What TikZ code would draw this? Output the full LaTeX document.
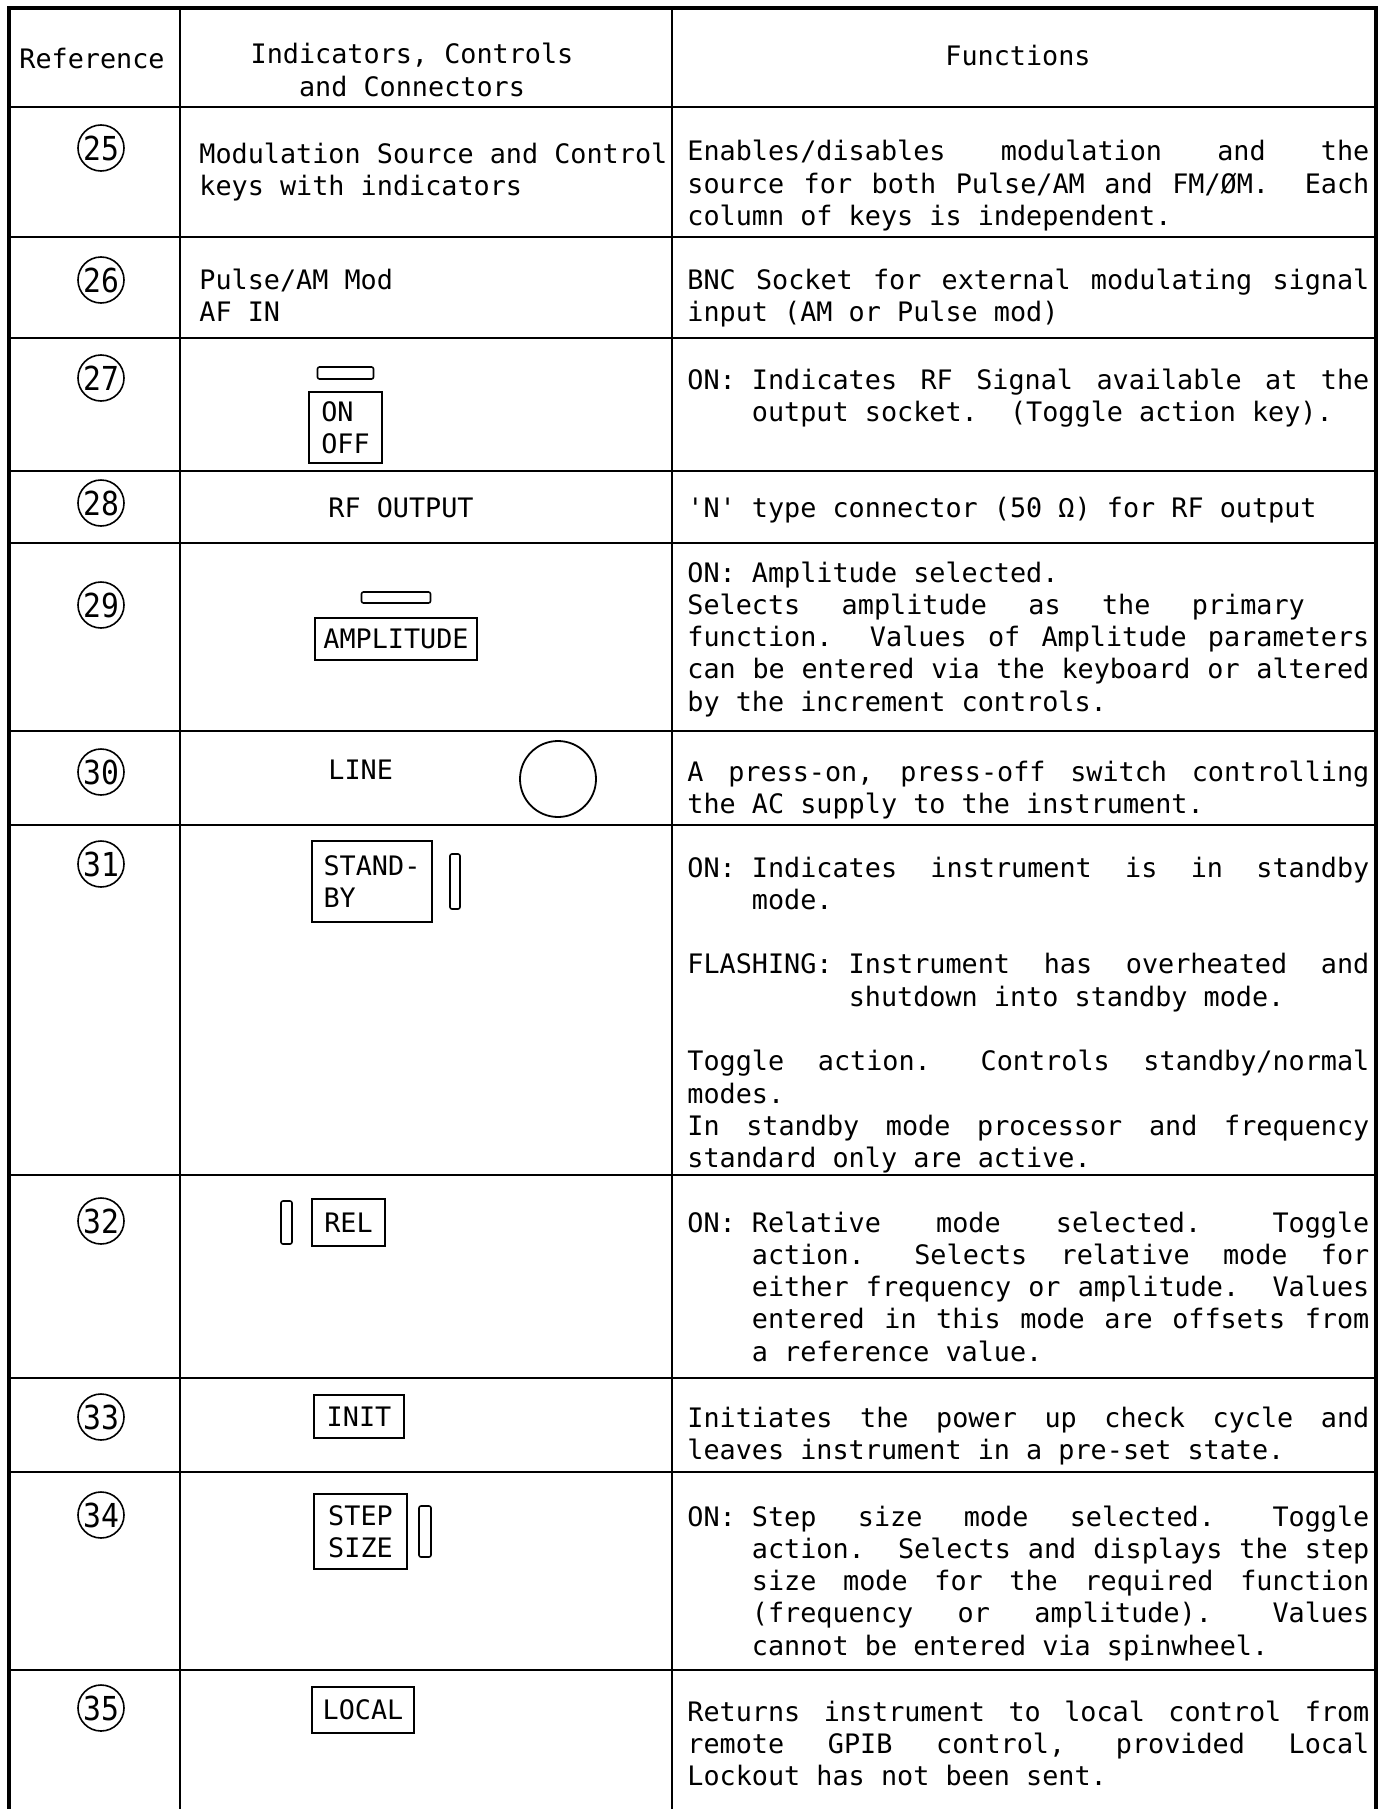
\documentclass[tikz,border=0pt]{standalone}
\usepackage{fontspec}
\setmainfont{DejaVu Sans Mono}
\usepackage{graphicx}
\usepackage{tikz}
\usetikzlibrary{positioning}

\newdimen\chw
\newcommand\fnfont{\fontsize{13.4pt}{16.15pt}\selectfont}
\newcommand\monosp{\setbox0=\hbox{0}\chw=\wd0\relax
	\spaceskip=\chw\relax \xspaceskip=2\chw\relax \sfcode`\:=1000\relax}
\newcommand\fnsetup{\monosp\spaceskip=\chw plus 2\chw\relax
	\xspaceskip=2\chw plus 2\chw\relax \parskip=0pt\relax
	\hyphenpenalty=10000 \exhyphenpenalty=10000\relax}
\newcommand\lbl[1]{#1\hspace{\chw}}
\newcommand\refnum[1]{\fontsize{16.5pt}{16.5pt}\selectfont\scalebox{0.9}[1]{#1}}

\begin{document}
\begin{tikzpicture}[x=0.5pt, y=-0.5pt, every node/.style={font=\fnfont, execute at begin node=\monosp},
		refcirc/.style={draw, circle, minimum size=23pt, inner sep=0pt, line width=0.8pt},
		txt/.style={anchor=base west, inner sep=0pt, text width=245pt, align=left},
		fn/.style={anchor=base west, inner sep=0pt, text width=341pt, align=justify,
			execute at begin node=\fnsetup},
		key/.style={draw, line width=1.2pt, inner sep=0pt, align=left},
		led/.style={draw, line width=0.8pt, rounded corners=1pt, inner sep=0pt},
		frame/.style={line width=2pt}, rowline/.style={line width=1.3pt},
		colline/.style={line width=0.8pt}]

			\useasboundingbox (0,0) rectangle (1384,1809);

			% Table frame and columns
			\draw[frame] (9,1809) -- (9,8) -- (1376,8) -- (1376,1809);
			\draw[colline] (180,8) -- (180,1809);
			\draw[colline] (672,8) -- (672,1809);

			% Row separators
			\draw[rowline] (9,107) -- (1376,107);
			\draw[rowline] (9,237) -- (1376,237);
			\draw[rowline] (9,338) -- (1376,338);
			\draw[rowline] (9,471) -- (1376,471);
			\draw[rowline] (9,543) -- (1376,543);
			\draw[rowline] (9,731) -- (1376,731);
			\draw[rowline] (9,825) -- (1376,825);
			\draw[rowline] (9,1175) -- (1376,1175);
			\draw[rowline] (9,1378) -- (1376,1378);
			\draw[rowline] (9,1472) -- (1376,1472);
			\draw[rowline] (9,1670) -- (1376,1670);

			% Header
			\node (hdref) [anchor=base, inner sep=0pt] at (92,69) {Reference};
			\node (hdind) [anchor=base, inner sep=0pt, text width=170pt, align=center] at (412,64)
				{Indicators, Controls\\and Connectors};
			\node (hdfn) [anchor=base, inner sep=0pt] at (1018,66) {Functions};

			% Reference numbers
			\node (r25) [refcirc] at (101,148) {\refnum{25}};
			\node (r26) [refcirc] at (101,280) {\refnum{26}};
			\node (r27) [refcirc] at (101,378) {\refnum{27}};
			\node (r28) [refcirc] at (101,503) {\refnum{28}};
			\node (r29) [refcirc] at (101,605) {\refnum{29}};
			\node (r30) [refcirc] at (101,772) {\refnum{30}};
			\node (r31) [refcirc] at (101,864) {\refnum{31}};
			\node (r32) [refcirc] at (101,1221) {\refnum{32}};
			\node (r33) [refcirc] at (101,1417) {\refnum{33}};
			\node (r34) [refcirc] at (101,1515) {\refnum{34}};
			\node (r35) [refcirc] at (101,1708) {\refnum{35}};

			% Indicators, controls and connectors
			\node (modsrc) [txt] at (199,163) {Modulation Source and Control\\keys with indicators};
			\node (afin) [txt] at (199,289) {Pulse/AM Mod\\AF IN};
			\node (onoff) [key, minimum width=36.5pt, minimum height=35.5pt] at (345.5,427.5) {ON\\OFF};
			\node (onled) [led, minimum width=28pt, minimum height=6pt, above=5.5pt of onoff] {};
			\node (rfout) [txt] at (328,517) {RF OUTPUT};
			\node (ampl) [key, minimum width=81pt, minimum height=21pt] at (396,639) {AMPLITUDE};
			\node (ampled) [led, minimum width=34.5pt, minimum height=5.5pt, above=6.5pt of ampl] {};
			\node (line) [txt] at (328,779) {LINE};
			\node (sw) [draw, circle, minimum size=38pt, inner sep=0pt, line width=0.9pt] at (558,779) {};
			\node (stby) [key, minimum width=60pt, minimum height=40.5pt] at (372,881.5) {STAND-\\BY};
			\node (stbyled) [led, minimum width=5pt, minimum height=27.5pt, right=8pt of stby] {};
			\node (rel) [key, minimum width=36.5pt, minimum height=23.5pt] at (348.5,1222.5) {REL};
			\node (relled) [led, minimum width=5.5pt, minimum height=21.5pt, left=9pt of rel] {};
			\node (init) [key, minimum width=45pt, minimum height=21.5pt] at (359,1416.5) {INIT};
			\node (step) [key, minimum width=46.5pt, minimum height=37.5pt] at (360.5,1531.5) {STEP\\SIZE};
			\node (stepled) [led, minimum width=6pt, minimum height=25.5pt, right=5pt of step] {};
			\node (local) [key, minimum width=51pt, minimum height=23pt] at (363,1710) {LOCAL};

			% Functions
			\node (f25) [fn] at (687,161) {Enables/disables modulation and the\linebreak
				source for both Pulse/AM and FM/ØM\@. Each\linebreak
				column of keys is independent.\par};
			\node (f26) [fn] at (687,289) {BNC Socket for external modulating signal\linebreak
				input (AM or Pulse mod)\par};
			\node (f27) [fn] at (687,389) {\hangindent=4\chw\hangafter=1 \lbl{ON:}Indicates RF Signal available at the\linebreak
				output socket. (Toggle action key).\par};
			\node (f28) [fn] at (687,517) {\textquotesingle N\textquotesingle{} type connector (50 Ω) for RF output\par};
			\node (f29) [fn] at (687,582) {ON: Amplitude selected.\par
				Selects amplitude as the primary\hspace*{4\chw}\linebreak
				function. Values of Amplitude parameters\linebreak
				can be entered via the keyboard or altered\linebreak
				by the increment controls.\par};
			\node (f30) [fn] at (687,781) {A press-on, press-off switch controlling\linebreak
				the AC supply to the instrument.\par};
			\node (f31) [fn] at (687,877) {\hangindent=4\chw\hangafter=1 \lbl{ON:}Indicates instrument is in standby\linebreak
				mode.\par\vspace{\baselineskip}
				\hangindent=10\chw\hangafter=1 \lbl{FLASHING:}Instrument has overheated and\linebreak
				shutdown into standby mode.\par\vspace{\baselineskip}
				Toggle action. Controls standby/normal\linebreak
				modes.\par
				In standby mode processor and frequency\linebreak
				standard only are active.\par};
			\node (f32) [fn] at (687,1232) {\hangindent=4\chw\hangafter=1 \lbl{ON:}Relative mode selected. Toggle\linebreak
				action. Selects relative mode for\linebreak
				either frequency or amplitude. Values\linebreak
				entered in this mode are offsets from\linebreak
				a reference value.\par};
			\node (f33) [fn] at (687,1427) {Initiates the power up check cycle and\linebreak
				leaves instrument in a pre-set state.\par};
			\node (f34) [fn] at (687,1526) {\hangindent=4\chw\hangafter=1 \lbl{ON:}Step size mode selected. Toggle\linebreak
				action. Selects and displays the step\linebreak
				size mode for the required function\linebreak
				(frequency or amplitude). Values\linebreak
				cannot be entered via spinwheel.\par};
			\node (f35) [fn] at (687,1721) {Returns instrument to local control from\linebreak
				remote GPIB control, provided Local\linebreak
				Lockout has not been sent.\par};

		\end{tikzpicture}
\end{document}
